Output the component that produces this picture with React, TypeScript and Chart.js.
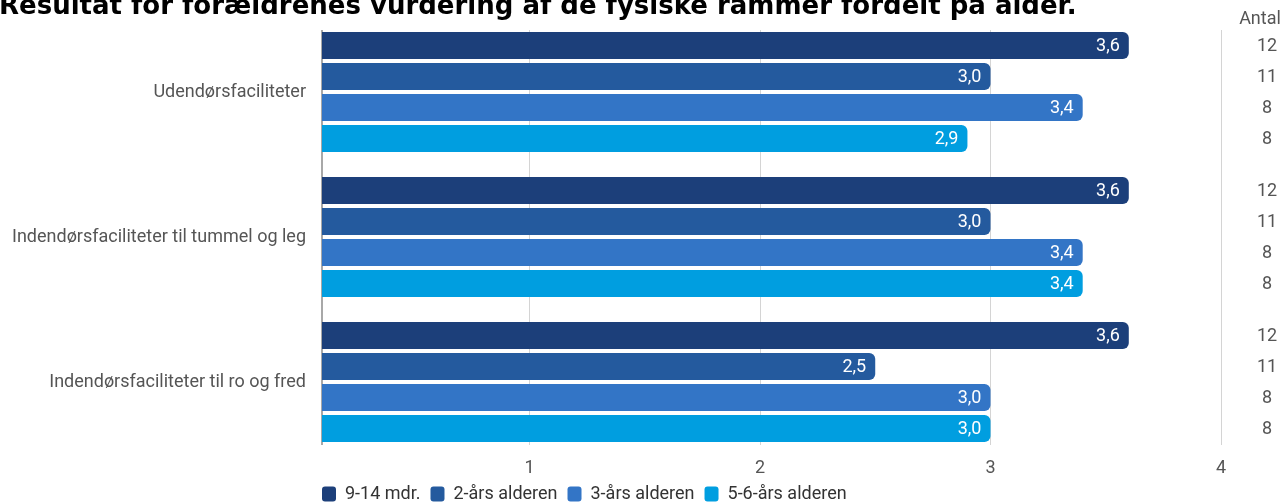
import React, { useEffect, useRef } from "react";
import { Chart, registerables } from "chart.js";

Chart.register(...registerables);

const TITLE = "Resultat for forældrenes vurdering af de fysiske rammer fordelt på alder.";
const categories = [
  "Udendørsfaciliteter",
  "Indendørsfaciliteter til tummel og leg",
  "Indendørsfaciliteter til ro og fred",
];
const seriesNames = ["9-14 mdr.", "2-års alderen", "3-års alderen", "5-6-års alderen"];
const values914 = [3.6, 3.6, 3.6];
const values2aar = [3.0, 3.0, 2.5];
const values3aar = [3.4, 3.4, 3.0];
const values56aar = [2.9, 3.4, 3.0];
const countsBySeries = [12, 11, 8, 8];
const countHeader = "Antal";
const xTickValues = [1, 2, 3, 4];
const xMin = 0.1;
const xMax = 4;
const seriesColors = ["#1C3F7A", "#245A9E", "#3375C6", "#009EE0"];

const FONT = "Roboto";
const FS = 18;
const LABEL_COLOR = "#555555";

const titlePlugin = {
  id: "customTitle",
  afterDraw(chart: any) {
    const ctx = chart.ctx;
    ctx.save();
    ctx.font = 'bold 26px "DejaVu Sans"';
    ctx.fillStyle = "#000000";
    ctx.textAlign = "left";
    ctx.textBaseline = "alphabetic";
    ctx.fillText(TITLE, -1, 14);
    ctx.restore();
  },
};

const gridPlugin = {
  id: "customGrid",
  beforeDatasetsDraw(chart: any) {
    const { ctx, chartArea } = chart;
    const xs = chart.scales.x;
    const top = chartArea.top + 10.5;
    const bottom = chartArea.bottom - 9.5;
    ctx.save();
    ctx.strokeStyle = "#d4d4d4";
    ctx.lineWidth = 1;
    xTickValues.forEach((v) => {
      const x = Math.round(xs.getPixelForValue(v)) + 0.5;
      ctx.beginPath();
      ctx.moveTo(x, top);
      ctx.lineTo(x, bottom);
      ctx.stroke();
    });
    ctx.strokeStyle = "#a8a8a8";
    ctx.lineWidth = 2;
    ctx.beginPath();
    ctx.moveTo(chartArea.left, top);
    ctx.lineTo(chartArea.left, bottom);
    ctx.stroke();
    ctx.restore();
  },
};

const labelsPlugin = {
  id: "barLabels",
  afterDatasetsDraw(chart: any) {
    const ctx = chart.ctx;
    ctx.save();
    ctx.font = `${FS}px ${FONT}`;
    ctx.textBaseline = "middle";
    chart.data.datasets.forEach((ds: any, di: number) => {
      const meta = chart.getDatasetMeta(di);
      meta.data.forEach((bar: any, i: number) => {
        const v = ds.data[i] as number;
        ctx.fillStyle = "#ffffff";
        ctx.textAlign = "right";
        ctx.fillText(v.toFixed(1).replace(".", ","), bar.x - 9, bar.y + 1);
        ctx.fillStyle = LABEL_COLOR;
        ctx.textAlign = "center";
        ctx.fillText(String(countsBySeries[di]), 1267, bar.y + 1);
      });
    });
    ctx.textAlign = "center";
    ctx.fillStyle = LABEL_COLOR;
    ctx.fillText(countHeader, 1260, 19);
    ctx.restore();
  },
};

const legendShiftPlugin = {
  id: "legendShift",
  afterLayout(chart: any) {
    const lg = chart.legend;
    if (!lg) return;
    const pad = lg.options.labels.padding;
    lg.left = chart.chartArea.left - pad;
    lg.top = 494 - pad - FS / 2;
  },
};

export default function App() {
  const ref = useRef<HTMLCanvasElement>(null);
  useEffect(() => {
    if (!ref.current) return;
    const seriesValues = [values914, values2aar, values3aar, values56aar];
    const chart = new Chart(ref.current, {
      type: "bar",
      data: {
        labels: categories,
        datasets: seriesNames.map((name, i) => ({
          label: name,
          data: seriesValues[i],
          backgroundColor: seriesColors[i],
          borderWidth: 0,
          borderRadius: 6,
          borderSkipped: "start",
          categoryPercentage: 0.855,
          barPercentage: 0.87,
        })),
      },
      options: {
        indexAxis: "y",
        animation: false,
        responsive: false,
        maintainAspectRatio: false,
        layout: { padding: { top: 19.5, right: 67, left: 0, bottom: 0 } },
        scales: {
          x: {
            type: "linear",
            min: xMin,
            max: xMax,
            afterBuildTicks: (s: any) => {
              s.ticks = xTickValues.map((v) => ({ value: v }));
            },
            afterFit: (s: any) => {
              s.height = 10.5;
              s._computeLabelArea = () => undefined;
            },
            grid: { display: false, drawTicks: false },
            border: { display: false },
            ticks: {
              color: LABEL_COLOR,
              font: { family: FONT, size: FS },
              padding: 3,
              maxRotation: 0,
              autoSkip: false,
            },
          },
          y: {
            afterFit: (s: any) => {
              s.width = 322;
              s.paddingTop = 0;
              s.paddingBottom = 0;
            },
            grid: { display: false, drawTicks: false },
            border: { display: false },
            ticks: {
              color: LABEL_COLOR,
              font: { family: FONT, size: FS },
              padding: 16,
            },
          },
        },
        plugins: {
          title: { display: false },
          tooltip: { enabled: false },
          legend: {
            position: "bottom",
            align: "start",
            labels: {
              color: "#333333",
              font: { family: FONT, size: FS },
              boxWidth: 14,
              boxHeight: 15,
              useBorderRadius: true,
              borderRadius: 3,
              padding: 10,
            },
          },
        },
      },
      plugins: [gridPlugin, labelsPlugin, titlePlugin, legendShiftPlugin],
    } as any);
    return () => chart.destroy();
  }, []);
  return (
    <div style={{ position: "fixed", left: 0, top: 0, width: 1288, height: 503, background: "#fff" }}>
      <canvas ref={ref} width={1288} height={503} style={{ display: "block", width: 1288, height: 503 }} />
    </div>
  );
}
